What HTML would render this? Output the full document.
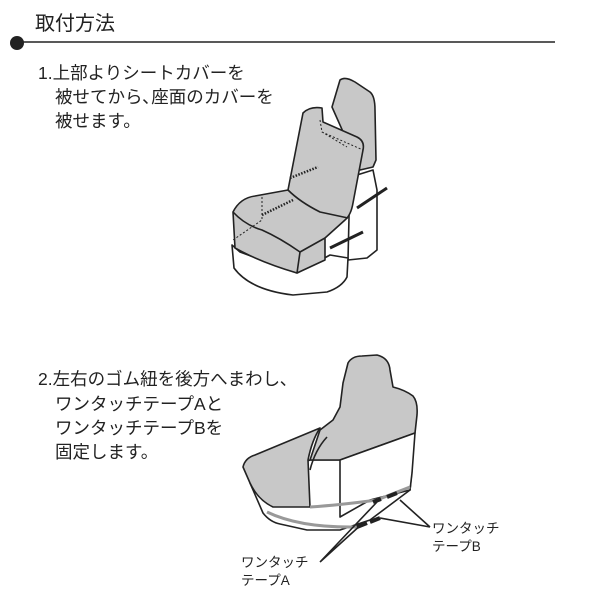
<!DOCTYPE html>
<html><head><meta charset="utf-8"><style>
body{margin:0;background:#fff;width:600px;height:600px;overflow:hidden}
svg{display:block}
text{font-family:"Liberation Sans","Noto Sans CJK JP",sans-serif;fill:#222}
</style></head><body>
<svg width="600" height="600" viewBox="0 0 600 600">
<text x="35" y="30" font-size="20">取付方法</text>
<line x1="17" y1="42" x2="555" y2="42" stroke="#222" stroke-width="1.5"/>
<circle cx="17" cy="43" r="7" fill="#222"/>
<g font-size="17.5">
<text x="38" y="79">1.上部よりシートカバーを</text>
<text x="55" y="103">被せてから､座面のカバーを</text>
<text x="55" y="127">被せます。</text>
<text x="38" y="385">2.左右のゴム紐を後方へまわし､</text>
<text x="55" y="410">ワンタッチテープAと</text>
<text x="55" y="434">ワンタッチテープBを</text>
<text x="55" y="458">固定します。</text>
</g>
<g font-size="13.5">
<text x="432" y="533">ワンタッチ</text>
<text x="432" y="551">テープB</text>
<text x="241" y="567">ワンタッチ</text>
<text x="241" y="585">テープA</text>
</g>
<!-- seat 1 -->
<g stroke="#222" stroke-width="1.6" stroke-linejoin="round" fill="none">
<path d="M350 175 L357 175 L373 170 L377 190 L377 250 L367 258 L348 260 Z" fill="#fff"/>
<path d="M232 245 L234 268 Q250 290 293 295 L327 292 Q342 287 347 277 L348 258 L330 255 L297 273 L240 252 Z" fill="#fff"/>
<path d="M340 80 Q345 76 355 82 L370 92 Q375 96 375 110 L376 160 L373 167 L360 170 L332 107 Z" fill="#c8c8c8"/>
<path d="M303 113 Q310 106 322 108 L323 122 L357 137 Q365 141 363 150 L353 203 Q351 215 345 220 L325 238 L325 260 L297 273 Q260 262 235 248 L233 212 Q240 198 255 196 L288 190 Z" fill="#c8c8c8"/>
<path d="M288 190 Q300 202 320 212 L348 218 M233 212 Q245 225 262 230 Q280 238 300 252 L325 238 M300 252 L297 273"/>
<path d="M357 208 L387 188 M330 248 L363 232" stroke-width="3"/>
<path d="M320 120 L322 132 L347 147 M322 132 L363 150 M262 197 L262 220 L233 240" stroke-dasharray="2 2" stroke-width="1"/>
<path d="M290 178 L318 167 M262 215 L293 200" stroke-dasharray="1.5 1.5" stroke-width="2.5"/>
</g>
<!-- seat 2 -->
<g stroke="#222" stroke-width="1.6" stroke-linejoin="round" fill="none">
<path d="M250 483 L263 513 Q270 522 280 524 L307 530 L340 530 L370 520 L410 490 L412 470 L340 460 L310 460 Z" fill="#fff"/>
<path d="M348 363 Q352 356 362 356 L377 355 Q389 358 390 370 L393 387 Q405 390 413 396 Q418 402 417 415 L415 433 L340 460 L310 460 L320 430 L333 420 L340 407 L343 383 Z" fill="#c8c8c8"/>
<path d="M340 460 L415 433 L412 473 L410 490 L370 500 L340 517 Z" fill="#fff"/>
<path d="M243 467 Q245 458 255 455 L320 428 Q312 440 308 460 L310 507 L273 507 Q258 500 250 483 Z" fill="#c8c8c8"/>
<path d="M327 437 Q315 450 310 470"/>
<path d="M310 507 Q340 505 377 500 L410 487 M267 512 Q300 528 357 527" stroke-width="3" stroke="#999"/>
<path d="M387 497 L397 493 M373 502 L381 499 M357 527 L367 523 M370 522 L380 518" stroke-width="4"/>
<path d="M320 562 L377 502 M320 562 L363 523 M430 527 L400 500 M430 527 L380 518"/>
</g>
</svg>
</body></html>
